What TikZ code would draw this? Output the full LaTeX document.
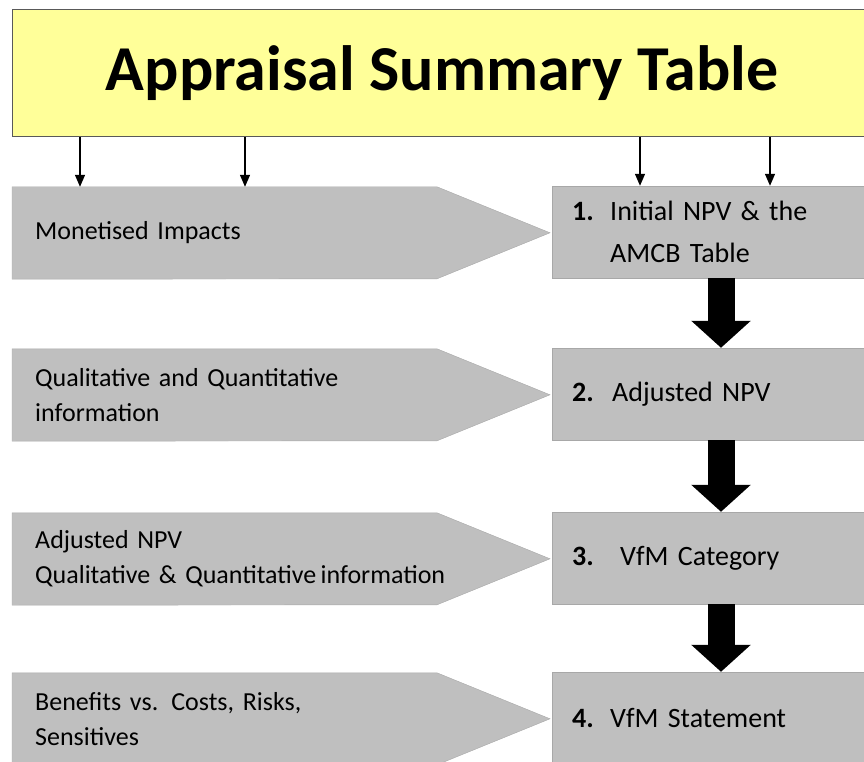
\documentclass[tikz,border=0pt]{standalone}
\usepackage{fontspec}
\setmainfont{Carlito}
\usetikzlibrary{arrows.meta,backgrounds}
\definecolor{asthead}{HTML}{FFFF99}
\definecolor{astgrey}{HTML}{BFBFBF}
\definecolor{astedge}{HTML}{A8A8A8}
\newcommand{\stepno}[2][38pt]{\makebox[#1][l]{\bfseries #2}}

\begin{document}
\begin{tikzpicture}[x=1pt,y=-1pt,
  titlebox/.style={draw=black!65, line width=1pt, fill=asthead, minimum width=860pt,
    minimum height=127pt, inner sep=0pt, font=\fontsize{64}{70}\selectfont\bfseries},
  inbox/.style={anchor=west, minimum height=92pt, inner xsep=23pt, text width=440pt,
    align=left, font=\fontsize{26}{35}\selectfont},
  stepbox/.style={anchor=west, draw=astedge, fill=astgrey, minimum height=92pt,
    inner xsep=20pt, text width=320pt, align=left, font=\fontsize{28}{42}\selectfont},
  feed/.style={-{Triangle[length=12pt,width=10pt]}, line width=1.3pt},
  flow/.style={-{Triangle[length=27pt,width=58pt]}, line width=27pt}]
\useasboundingbox (0,0) rectangle (864,762);
\clip (0,0) rectangle (864,762);

\node (title) at (442,73.5) [titlebox] {Appraisal Summary Table};

% inputs on the left
\node (in1) at (12,233) [inbox] {Monetised Impacts};
\node (in2) at (12,395) [inbox] {Qualitative and Quantitative\\information};
\node (in3) at (12,559) [inbox] {Adjusted NPV\\Qualitative \& Quantitative\,information};
\node (in4) at (12,719) [inbox] {Benefits vs. Costs, Risks,\\Sensitives};

% steps on the right
\node (s1) at (552,232) [stepbox] {\stepno{1.}Initial NPV \& the\\\hspace{38pt}AMCB Table};
\node (s2) at (552,394) [stepbox] {\stepno[40pt]{2.}Adjusted NPV};
\node (s3) at (552,558) [stepbox] {\stepno[48pt]{3.}VfM Category};
\node (s4) at (552,718) [stepbox] {\stepno{4.}VfM Statement};

\begin{scope}[on background layer]
\foreach \n in {in1,in2,in3,in4}
  \filldraw[draw=astedge, fill=astgrey] (\n.north west) -- ++(425,0) -- ++(113,46)
    -- ++(-113,46) -- (\n.south west) -- cycle;
\end{scope}

\draw[feed] (80,0 |- title.south) to (80,0 |- in1.north);
\draw[feed] (245,0 |- title.south) to (245,0 |- in1.north);
\draw[feed] (640,0 |- title.south) to (640,0 |- s1.north);
\draw[feed] (770,0 |- title.south) to (770,0 |- s1.north);

\draw[flow] (721,0 |- s1.south) to (721,0 |- s2.north);
\draw[flow] (721,0 |- s2.south) to (721,0 |- s3.north);
\draw[flow] (721,0 |- s3.south) to (721,0 |- s4.north);
\end{tikzpicture}
\end{document}
